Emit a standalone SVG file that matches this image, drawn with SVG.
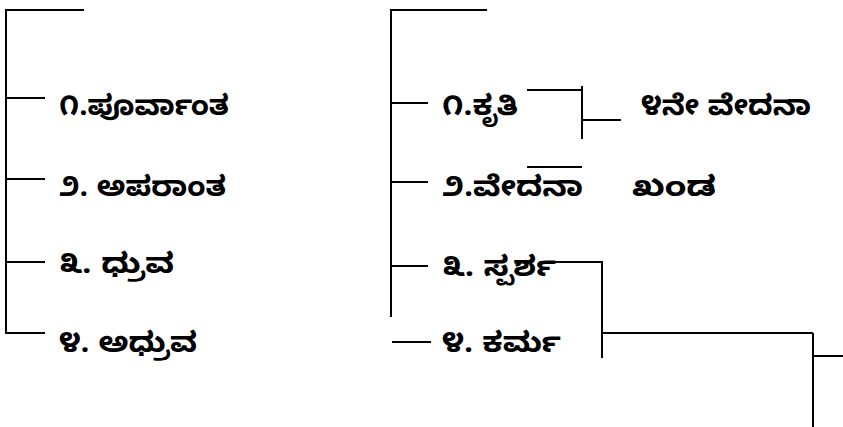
<svg xmlns="http://www.w3.org/2000/svg" width="843" height="427" viewBox="0 0 843 427">
<style>
.c{stroke:#000;stroke-width:2;fill:none}
text{font-family:"Noto Sans Kannada","Noto Sans","DejaVu Sans",sans-serif;font-size:28px;font-weight:bold;fill:#000}
</style>
<rect width="843" height="427" fill="#fff"/>
<g id="connectors">
<path class="c" d="M84 10H6V333H45M6 98H45M6 179H45M6 262H45"/>
<path class="c" d="M487 10H391V317M391 103H428M391 182H428M391 266H428M392 342H431"/>
<path class="c" d="M527 90H583M582 86V139M582 120H621M527 167H582"/>
<path class="c" d="M553 262H602V358M602 333H813M813 333V427M813 356H843"/>
</g>
<g id="n1"><text x="59" y="115" textLength="170" lengthAdjust="spacingAndGlyphs">೧.ಪೂರ್ವಾಂತ</text></g>
<g id="n2"><text x="59" y="196" textLength="167" lengthAdjust="spacingAndGlyphs">೨. ಅಪರಾಂತ</text></g>
<g id="n3"><text x="59" y="273" textLength="115" lengthAdjust="spacingAndGlyphs">೩. ಧ್ರುವ</text></g>
<g id="n4"><text x="59" y="352" textLength="138" lengthAdjust="spacingAndGlyphs">೪. ಅಧ್ರುವ</text></g>
<g id="r1"><text x="442" y="115" textLength="76" lengthAdjust="spacingAndGlyphs">೧.ಕೃತಿ</text></g>
<g id="r2"><text x="442" y="196" textLength="141" lengthAdjust="spacingAndGlyphs">೨.ವೇದನಾ</text></g>
<g id="r3"><text x="442" y="276" textLength="114" lengthAdjust="spacingAndGlyphs">೩. ಸ್ಪರ್ಶ</text></g>
<g id="r4"><text x="442" y="352" textLength="119" lengthAdjust="spacingAndGlyphs">೪. ಕರ್ಮ</text></g>
<g id="r5"><text x="641" y="115" textLength="170" lengthAdjust="spacingAndGlyphs">೪ನೇ ವೇದನಾ</text></g>
<g id="r6"><text x="632" y="196" textLength="84" lengthAdjust="spacingAndGlyphs">ಖಂಡ</text></g>
</svg>
